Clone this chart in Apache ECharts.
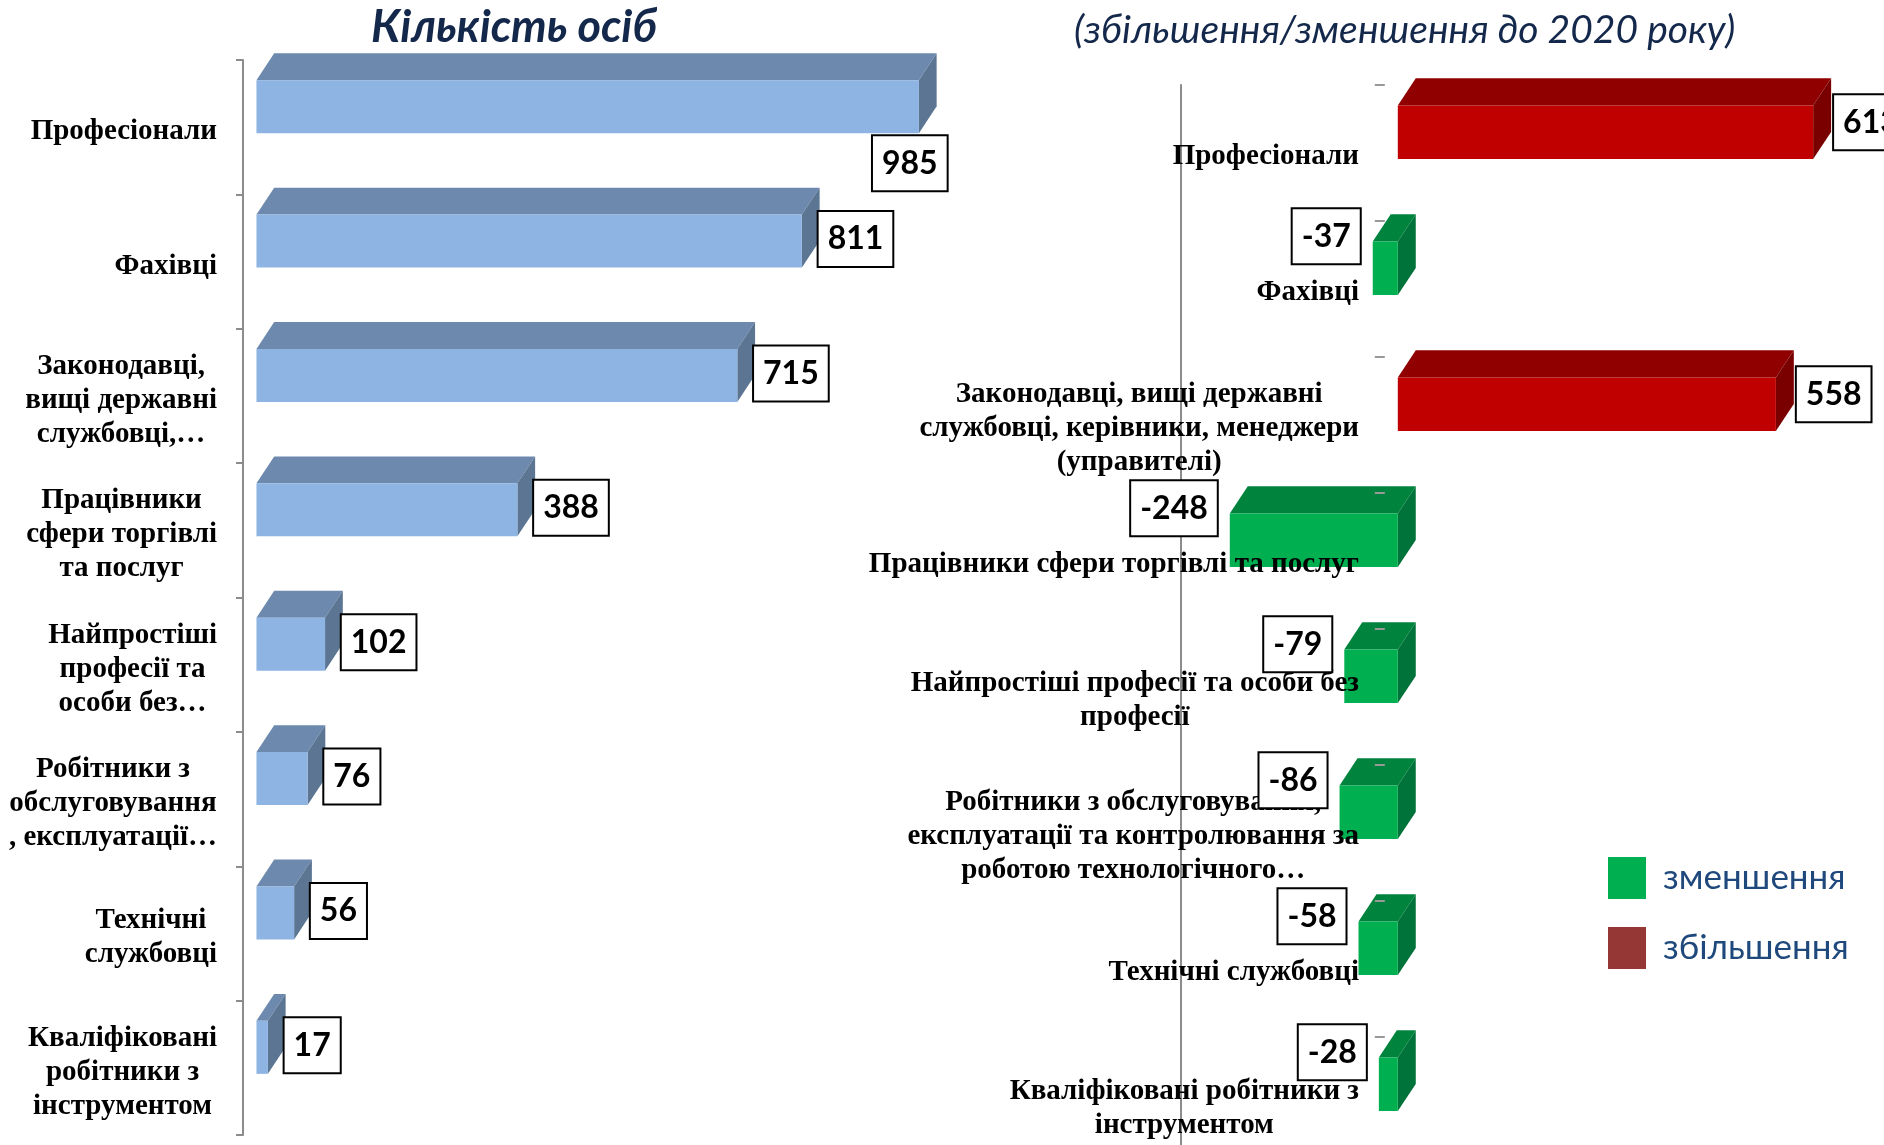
<!DOCTYPE html>
<html>
<head>
<meta charset="utf-8">
<script src="https://cdn.jsdelivr.net/npm/echarts@6/dist/echarts.min.js"></script>
<style>
  html, body { margin: 0; padding: 0; background: #fff; }
  #chart { width: 1884px; height: 1145px; }
</style>
</head>
<body>
<div id="chart"></div>
<script>
// categories, left chart (number of persons)
const leftCategories = [
  'Професіонали',
  'Фахівці',
  'Законодавці,\nвищі державні\nслужбовці,…',
  'Працівники\nсфери торгівлі\nта послуг',
  'Найпростіші\nпрофесії та\nособи без…',
  'Робітники з\nобслуговування\n, експлуатації…',
  'Технічні\nслужбовці',
  'Кваліфіковані\nробітники з\nінструментом'
];
const leftValues = [985, 811, 715, 388, 102, 76, 56, 17];

// categories, right chart (change to 2020)
const rightCategories = [
  'Професіонали',
  'Фахівці',
  'Законодавці, вищі державні\nслужбовці, керівники, менеджери\n(управителі)',
  'Працівники сфери торгівлі та послуг',
  'Найпростіші професії та особи без\nпрофесії',
  'Робітники з обслуговування,\nексплуатації та контролювання за\nроботою технологічного…',
  'Технічні службовці',
  'Кваліфіковані робітники з\nінструментом'
];
const changeValues = [613, -37, 558, -248, -79, -86, -58, -28];

const leftTitle = 'Кількість осіб';
const rightTitle = '(збільшення/зменшення до 2020 року)';
const decreaseName = 'зменшення';
const increaseName = 'збільшення';

const blue = { front: '#8db4e2', top: '#6d89ae', side: '#5b7593' };
const red = { front: '#c00000', top: '#900000', side: '#7a0000' };
const green = { front: '#00b050', top: '#00843d', side: '#00733a' };

const labelText = {
  fontFamily: 'Liberation Serif',
  fontWeight: 'bold',
  fontSize: 29,
  lineHeight: 34,
  color: '#000',
  align: 'center'
};

function centeredLines(text) {
  return text.split('\n').map(s => '{c|' + s + '}').join('\n');
}

// 3D box: front face, top face, right side face
function box3d(c) {
  return function (params, api) {
    const v = api.value(0);
    const i = api.value(1);
    const x0 = api.coord([0, i])[0];
    const p = api.coord([v, i]);
    const band = api.size([0, 1])[1];
    const xl = Math.min(x0, p[0]);
    const xr = Math.max(x0, p[0]);
    const top = p[1] - band * 0.35;
    const h = band * 0.395;
    const dx = band * 0.132;
    const dy = band * 0.2;
    return {
      type: 'group',
      children: [
        {
          type: 'polygon',
          shape: { points: [[xl, top], [xr, top], [xr + dx, top - dy], [xl + dx, top - dy]] },
          style: { fill: c.top }
        },
        {
          type: 'polygon',
          shape: { points: [[xr, top], [xr + dx, top - dy], [xr + dx, top + h - dy], [xr, top + h]] },
          style: { fill: c.side }
        },
        {
          type: 'rect',
          shape: { x: xl, y: top, width: xr - xl, height: h },
          style: { fill: c.front }
        }
      ]
    };
  };
}

function boxLabels(opts) {
  return function (params, api) {
    const v = api.value(0);
    const i = api.value(1);
    const x0 = api.coord([0, i])[0];
    const p = api.coord([v, i]);
    const band = api.size([0, 1])[1];
    const top = p[1] - band * 0.35;
    const h = band * 0.395;
    const dx = band * 0.132;
    const mid = top + h / 2;
    let x, y, align, vAlign = 'middle';
    if (v >= 0) {
      const sideRight = p[0] + dx;
      const limit = params.coordSys.x + params.coordSys.width;
      if (opts.fitInside && sideRight + 80 > limit) {
        x = sideRight + 10; y = top + h + 3; align = 'right'; vAlign = 'top';
      } else {
        x = sideRight + opts.gap; y = mid - opts.lift; align = 'left';
      }
    } else {
      x = p[0] - 13; y = mid - 32; align = 'right';
    }
    const children = [{
      type: 'text',
      style: {
        x: x, y: y, text: String(v), align: align, verticalAlign: vAlign,
        fontFamily: 'Lato', fontWeight: 'bold', fontSize: 32, lineHeight: 40,
        fill: '#000', backgroundColor: '#fff', borderColor: '#000', borderWidth: 2,
        padding: [7, 9]
      }
    }];
    if (opts.dash) {
      const yb = p[1] - band / 2;
      children.push({
        type: 'line',
        shape: { x1: x0 - 23, y1: yb, x2: x0 - 13, y2: yb },
        style: { stroke: '#999', lineWidth: 2 }
      });
    }
    return { type: 'group', children: children };
  };
}

const leftData = leftValues.map((v, i) => [v, i]);
const changeData = changeValues.map((v, i) => [v, i]);

const chart = echarts.init(document.getElementById('chart'));

const option = {
  animation: false,
  title: [
    {
      text: leftTitle, left: 366, top: 0,
      textStyle: { fontFamily: 'Lato', fontStyle: 'italic', fontWeight: 'bold', fontSize: 45, color: '#14284b' }
    },
    {
      text: rightTitle, left: 1069, top: 6,
      textStyle: { fontFamily: 'Lato', fontStyle: 'italic', fontWeight: 'normal', fontSize: 39, color: '#14284b' }
    }
  ],
  legend: {
    orient: 'vertical',
    left: 1603,
    top: 852,
    itemWidth: 38,
    itemHeight: 42,
    itemGap: 28,
    icon: 'rect',
    selectedMode: false,
    data: [
      { name: decreaseName, itemStyle: { color: '#00b050' } },
      { name: increaseName, itemStyle: { color: '#953735' } }
    ],
    textStyle: { fontFamily: 'Lato', fontSize: 35, color: '#1f497d', padding: [0, 0, 0, 12] }
  },
  grid: [
    { left: 243, top: 60, width: 686, height: 1075, containLabel: false, outerBoundsMode: 'none' },
    { left: 1181, top: 85, width: 664, height: 1088, containLabel: false, outerBoundsMode: 'none' }
  ],
  xAxis: [
    { gridIndex: 0, type: 'value', min: -20, max: 1000, show: false },
    { gridIndex: 1, type: 'value', min: -320, max: 660, show: false }
  ],
  yAxis: [
    {
      gridIndex: 0, type: 'category', inverse: true, data: leftCategories, z: 2,
      axisLine: { onZero: false, lineStyle: { color: '#8c8c8c', width: 2 } },
      axisTick: { show: true, length: 7, lineStyle: { color: '#8c8c8c', width: 2 } },
      axisLabel: {
        interval: 0, margin: 26, padding: [9, 0, 0, 0],
        formatter: centeredLines, rich: { c: labelText }
      }
    },
    {
      gridIndex: 1, type: 'category', inverse: true, data: rightCategories, z: 2,
      axisLine: { onZero: false, lineStyle: { color: '#8c8c8c', width: 2 } },
      axisTick: { show: false },
      axisLabel: {
        interval: 0, margin: -178, padding: [8, 0, 0, 0],
        formatter: centeredLines, rich: { c: labelText }
      }
    }
  ],
  series: [
    {
      type: 'custom', name: 'Кількість', xAxisIndex: 0, yAxisIndex: 0, z: 1,
      renderItem: box3d(blue), encode: { x: 0, y: 1 }, data: leftData,
      itemStyle: { color: blue.front }
    },
    {
      type: 'custom', xAxisIndex: 0, yAxisIndex: 0, z: 3,
      renderItem: boxLabels({ gap: -1, lift: 2, fitInside: true }),
      encode: { x: 0, y: 1 }, data: leftData
    },
    {
      type: 'custom', name: increaseName, xAxisIndex: 1, yAxisIndex: 1, z: 1,
      renderItem: box3d(red), encode: { x: 0, y: 1 },
      data: changeData.filter(d => d[0] > 0),
      itemStyle: { color: '#953735' }
    },
    {
      type: 'custom', name: decreaseName, xAxisIndex: 1, yAxisIndex: 1, z: 1,
      renderItem: box3d(green), encode: { x: 0, y: 1 },
      data: changeData.filter(d => d[0] < 0),
      itemStyle: { color: green.front }
    },
    {
      type: 'custom', xAxisIndex: 1, yAxisIndex: 1, z: 3,
      renderItem: boxLabels({ gap: 3, lift: 10, dash: true }),
      encode: { x: 0, y: 1 }, data: changeData
    }
  ]
};

chart.setOption(option);
</script>
</body>
</html>
